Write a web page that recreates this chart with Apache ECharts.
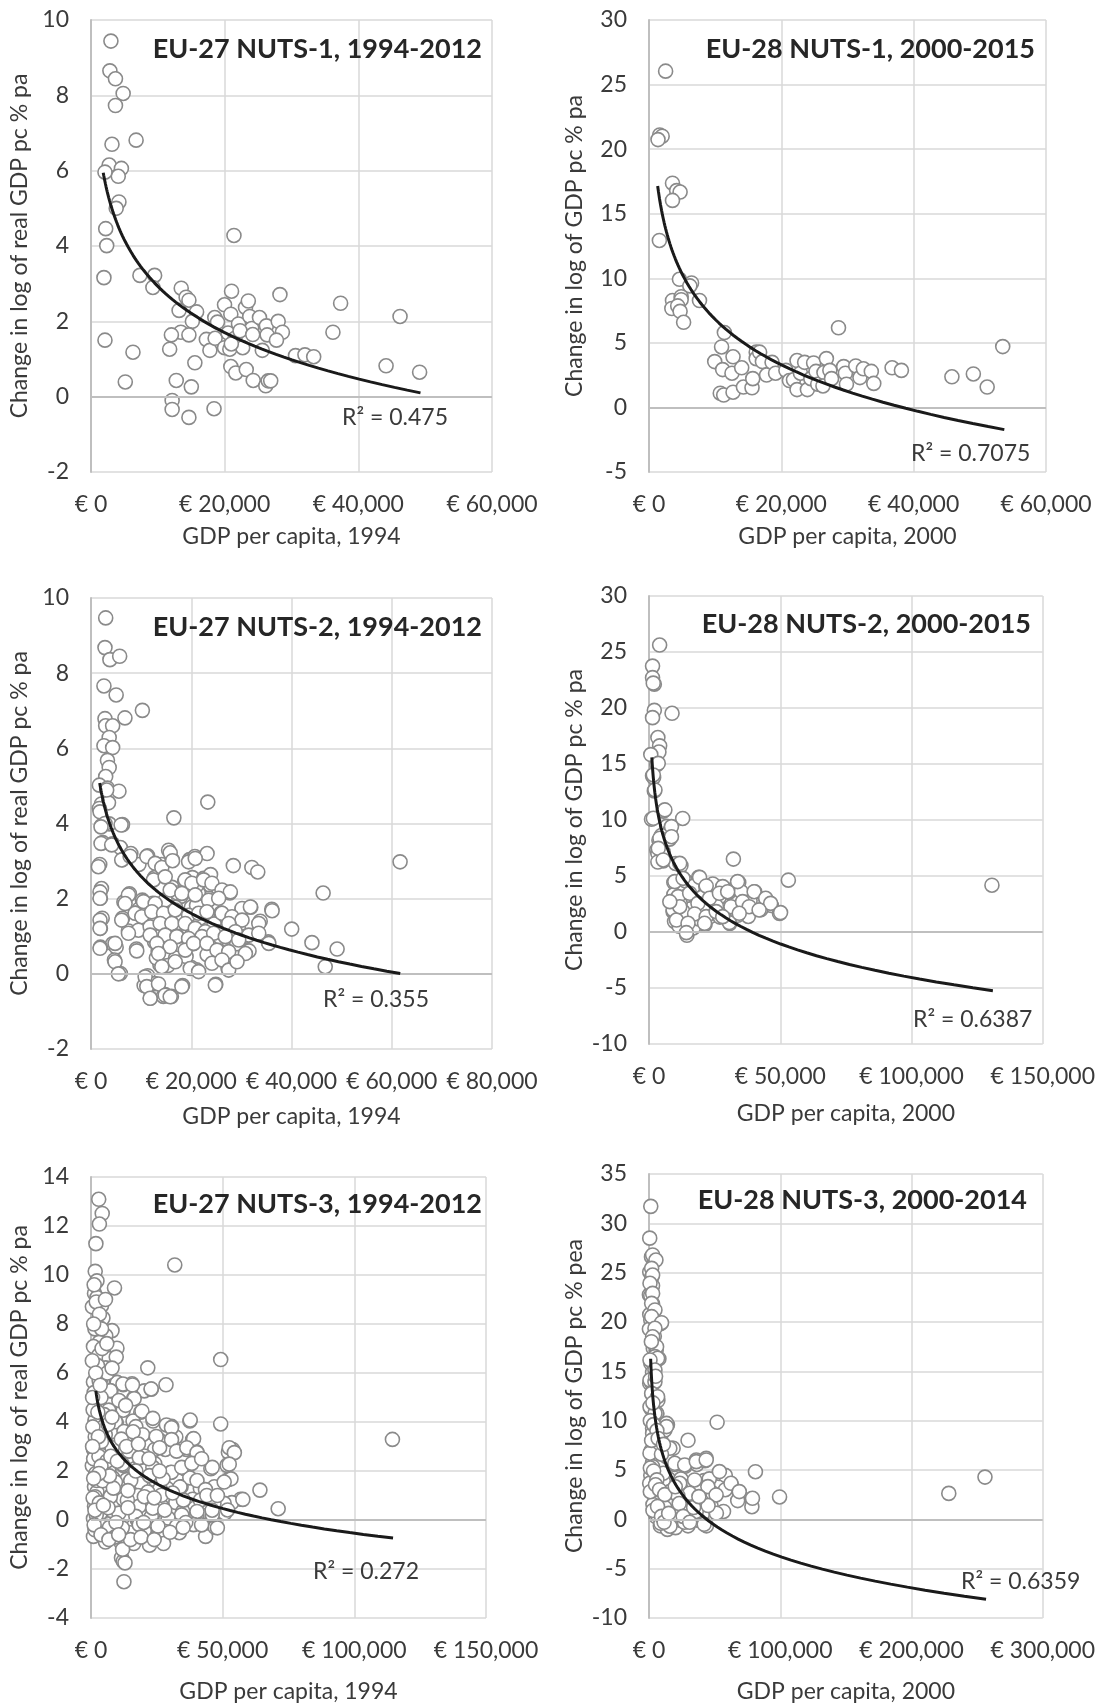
<!DOCTYPE html>
<html><head><meta charset="utf-8">
<script src="https://cdn.jsdelivr.net/npm/echarts@6/dist/echarts.min.js"></script>
<style>html,body{margin:0;padding:0;background:#fff}#c{width:1098px;height:1704px}</style>
</head><body><div id="c"></div>
<script>
// ---------- DATA ----------
const nuts1_1994 = [[2980,9.44],[2825,8.65],[3660,8.44],[4810,8.05],[3660,7.73],[6750,6.81],[3140,6.70],[2720,6.15],[4550,6.06],[4080,5.85],[2090,5.96],[4180,5.17],[3770,5.0],[2200,4.46],[2350,4.01],[1935,3.16],[7320,3.22],[9520,3.22],[9260,2.90],[2090,1.50],[6280,1.18],[5130,0.39],[13500,2.88],[14230,2.64],[14650,2.56],[13180,2.29],[15800,2.25],[15170,2.0],[13440,1.71],[12030,1.64],[14650,1.64],[11770,1.26],[15540,0.90],[12760,0.43],[15010,0.26],[12140,-0.10],[12140,-0.34],[14650,-0.55],[18410,-0.32],[17260,1.52],[17790,1.23],[18570,1.55],[18520,2.10],[18930,1.98],[19980,2.44],[21030,2.80],[20920,2.19],[21390,4.28],[22070,1.93],[20500,1.69],[19980,1.30],[20770,1.26],[21550,1.55],[22700,1.30],[23120,2.37],[23540,2.54],[23750,2.13],[24060,1.81],[25210,2.10],[26250,1.88],[26360,1.64],[25630,1.23],[28010,2.0],[28270,2.71],[28640,1.71],[27750,1.50],[20920,0.80],[21660,0.63],[23230,0.72],[24270,0.43],[26150,0.29],[26520,0.42],[26890,0.42],[30600,1.09],[32010,1.11],[33320,1.06],[36200,1.71],[37350,2.48],[44150,0.82],[46240,2.13],[49170,0.65],[22300,1.75],[24200,1.65],[21000,1.40]];

const nuts1_2000 = [[2510,26.04],[1620,21.1],[1990,21.0],[1360,20.74],[3550,17.36],[4180,16.79],[4700,16.68],[3550,16.03],[1570,12.93],[4600,9.92],[6430,9.64],[6170,9.41],[7630,8.28],[3550,8.28],[4860,8.57],[4860,8.34],[3450,7.66],[4340,7.86],[4700,7.44],[5230,6.59],[10970,4.68],[11390,5.80],[9930,3.55],[11130,2.93],[12700,3.92],[12540,2.65],[14010,3.07],[10770,1.10],[11290,0.96],[12700,1.18],[14270,1.58],[15570,1.52],[15680,2.23],[16200,4.28],[16200,3.78],[16720,4.28],[17140,3.55],[17770,2.51],[18600,3.49],[19130,2.65],[20690,2.87],[21220,2.08],[21840,2.14],[22370,3.63],[22890,2.65],[23520,3.49],[22370,1.38],[23940,1.38],[24460,2.23],[24880,3.44],[25240,2.79],[25500,1.80],[26440,2.70],[26290,1.66],[26810,3.78],[27330,2.87],[27590,2.23],[28640,6.17],[29420,3.16],[29680,2.65],[29840,1.80],[31250,3.21],[31880,2.31],[32400,2.99],[33600,2.79],[33970,1.86],[36740,3.07],[38150,2.87],[45780,2.37],[49020,2.59],[51110,1.58],[53460,4.71]];

const nuts2_1994 = [[2930,9.47],[2790,8.68],[3770,8.36],[5720,8.45],[2580,7.66],[5020,7.42],[10250,7.01],[6770,6.81],[2790,6.79],[2930,6.60],[4320,6.60],[3630,6.29],[2580,6.07],[4320,6.02],[3280,5.68],[3630,5.49],[2930,5.25],[1670,5.02],[3280,4.94],[5580,4.86],[2090,4.52],[3490,4.55],[1670,4.40],[23300,4.57],[16530,4.15],[2090,3.94],[3630,3.99],[6280,3.97],[2370,3.49],[4320,3.46],[5860,3.36],[7950,3.20],[6280,3.04],[9560,2.91],[11300,3.14],[1740,2.91],[14090,2.91],[12690,2.56],[15480,3.29],[16180,3.04],[19670,3.04],[20720,3.12],[23160,3.20],[28390,2.88],[32090,2.83],[33270,2.71],[2090,2.27],[1880,2.01],[7670,2.13],[6560,1.91],[10250,1.96],[12350,1.88],[9560,1.72],[8860,1.62],[10040,1.59],[6280,1.48],[2230,1.48],[1880,1.21],[7460,1.14],[11650,1.19],[13180,1.57],[14440,1.67],[16180,1.43],[18270,1.57],[20020,1.77],[17930,2.06],[18620,2.44],[20230,2.56],[22460,2.54],[23850,2.35],[25600,2.20],[27690,2.15],[23510,2.01],[21410,2.15],[21060,1.82],[22810,1.62],[25950,1.62],[27690,1.43],[30130,1.72],[31880,1.77],[33760,1.40],[36060,1.72],[33270,1.09],[35360,0.85],[40040,1.19],[44080,0.83],[49100,0.66],[46310,2.15],[46730,0.19],[61660,2.98],[30830,0.61],[27340,0.42],[27340,0.14],[23850,0.71],[24900,-0.28],[21060,0.11],[20020,0.17],[20370,0.80],[17930,0.66],[16880,0.42],[18270,-0.31],[16040,-0.60],[14790,-0.55],[14440,-0.60],[11860,-0.65],[11300,-0.05],[10600,-0.31],[12690,-0.26],[13740,0.24],[15340,0.22],[13390,0.61],[12690,0.85],[4320,0.80],[5020,0.71],[4670,0.37],[5860,0.01],[1880,0.71],[9070,0.66],[14090,1.09],[14790,0.80],[17230,1.0],[20020,1.24],[24200,1.19],[26640,1.09],[29430,1.19],[29080,0.80],[31530,0.61],[23160,0.51],[25600,0.61],[18970,0.46],[15130,1.67],[16880,1.77],[14790,1.96],[16180,2.30],[17230,2.15],[19320,2.25],[21060,2.35],[23850,2.64],[21760,1.48],[24550,1.33],[29430,1.43],[30830,1.0],[14090,1.33],[11950,1.38],[13040,0.42],
[3130,4.89],[1800,4.31],[2800,4.0],[6000,3.96],[2000,3.91],[2000,3.47],[4130,3.43],[6130,3.03],[7800,3.13],[11130,3.12],[12800,2.94],[14130,2.83],[15800,3.22],[16270,3.01],[19470,2.98],[20800,3.07],[1470,2.85],[12470,2.5],[14800,2.58],[18800,2.5],[20130,2.41],[22470,2.5],[24130,2.41],[26130,2.23],[27800,2.18],[1800,2.18],[7470,2.1],[10470,1.92],[12800,1.87],[15800,2.23],[18130,2.14],[20800,2.1],[23470,1.96],[25470,2.01],[30130,1.74],[31800,1.78],[36130,1.68],[1800,2.01],[6800,1.87],[8800,1.61],[10130,1.52],[12130,1.65],[14470,1.61],[16800,1.7],[19470,1.56],[21470,1.61],[23130,1.65],[26130,1.61],[28130,1.52],[30130,1.43],[33470,1.34],[1800,1.43],[6130,1.43],[9470,1.16],[11800,1.25],[13800,1.34],[16130,1.34],[18800,1.34],[20800,1.21],[22800,1.12],[25470,1.12],[27470,1.34],[28800,1.12],[31470,1.03],[33470,1.08],[1800,1.21],[7470,1.08],[11800,1.03],[14800,1.03],[17130,0.99],[19470,0.94],[22130,0.99],[24470,1.08],[26800,0.99],[29470,0.9],[35470,0.81],[1800,0.68],[4800,0.81],[9130,0.61],[13130,0.81],[15800,0.72],[18800,0.63],[20470,0.81],[23130,0.81],[25130,0.63],[27470,0.59],[30800,0.54],[4800,0.32],[13470,0.54],[16800,0.32],[14130,0.19],[19800,0.14],[21470,0.06],[24130,0.28],[26130,0.37],[27470,0.1],[29130,0.32],[5470,0.0],[10800,-0.08],[11130,-0.34],[13470,-0.27],[14800,-0.57],[15800,-0.61],[11800,-0.65],[18130,-0.34],[24800,-0.3]];

const nuts2_2000 = [[4050,25.62],[1350,23.74],[1350,22.71],[2030,22.13],[1620,22.22],[2030,19.79],[1350,19.14],[8780,19.53],[3380,17.36],[4050,16.62],[3780,16.07],[680,15.84],[2970,14.93],[1350,13.96],[1760,13.80],[2030,12.60],[950,10.07],[12830,10.14],[5400,10.79],[6750,9.43],[8110,9.10],[4730,8.62],[7840,8.29],[3780,8.20],[2970,7.32],[3380,7.0],[5400,7.16],[5400,6.35],[3380,6.25],[12160,5.93],[10130,6.12],[32150,6.51],[18910,4.89],[9460,4.41],[13780,4.57],[16890,4.08],[21620,4.08],[25400,4.08],[29720,3.76],[34180,4.41],[53090,4.63],[130640,4.18],[40260,3.60],[44580,2.88],[46610,2.36],[49720,1.65],[42560,1.98],[38500,2.79],[35800,2.46],[37830,1.39],[30400,3.53],[31080,2.14],[27700,1.98],[26750,3.11],[24050,1.49],[30800,0.75],[21350,0.68],[18240,2.46],[11080,2.95],[9460,3.34],[9190,1.81],[9730,0.94],[12160,1.39],[14190,1.07],[14450,-0.29],[14860,1.81],[15940,2.46],[14590,3.27],[20270,3.11],[24320,2.62],[22970,1.33],[27020,1.33],[11480,0.52],[16890,0.36],[18910,1.17],[20940,2.30],[25670,2.30],[33780,1.49],[35120,3.60],[11890,2.56],
[3530,15.06],[1640,14.02],[2270,12.68],[6040,10.9],[1640,10.15],[8560,9.41],[4160,8.37],[8560,8.51],[3530,7.47],[5410,6.43],[11710,6.13],[9820,4.5],[12970,4.79],[19270,4.88],[24300,4.29],[21790,4.11],[28080,4.05],[33750,4.5],[40050,3.6],[44450,3.01],[46340,2.56],[50120,1.73],[11080,3.16],[15490,3.46],[18640,2.56],[23050,3.01],[26820,3.46],[29970,3.6],[31230,2.26],[35640,2.71],[38160,2.26],[41940,1.97],[9190,1.97],[12970,1.82],[17380,1.61],[21790,1.37],[25570,1.82],[30600,0.84],[34380,1.67],[10450,1.07],[14860,0.78],[21160,0.78],[14230,-0.06],[28080,1.37],[11710,2.26],[7930,2.71]];

const nuts3_1994 = [[2930,13.09],[4260,12.51],[3190,12.08],[1860,11.28],[31810,10.41],[1600,10.15],[2260,9.76],[8920,9.47],[1330,9.25],[2260,9.08],[3990,8.75],[530,8.70],[4530,8.24],[2260,7.95],[7990,7.73],[5590,7.52],[3190,7.26],[9850,7.01],[930,7.08],[2930,6.72],[6920,6.58],[9580,6.65],[5590,6.21],[21560,6.21],[49250,6.55],[930,5.63],[3590,5.71],[9580,5.63],[12250,5.52],[15570,5.56],[20230,5.27],[22890,5.34],[28480,5.52],[7590,5.27],[2930,4.91],[10910,4.84],[16240,4.98],[6920,4.48],[18900,4.40],[12250,4.48],[1600,4.04],[4260,3.97],[9580,3.97],[15970,4.04],[23560,4.04],[30610,3.82],[37530,4.04],[49250,3.92],[7990,3.61],[1600,3.39],[13580,3.46],[20230,3.32],[26220,3.24],[32210,3.39],[38600,3.29],[114470,3.29],[930,2.88],[4920,2.88],[10250,2.91],[16240,2.77],[21560,3.03],[28220,2.88],[36200,2.88],[40200,2.77],[52180,2.77],[53770,2.88],[1600,2.16],[6920,2.09],[12250,2.23],[18240,2.52],[24220,2.30],[30210,1.94],[35540,2.09],[45520,2.09],[51650,2.23],[1330,1.36],[4260,1.14],[2260,1.14],[8250,1.72],[13580,1.65],[18900,1.51],[24220,1.65],[28880,1.29],[34210,1.36],[41530,1.29],[46850,1.36],[52180,1.65],[64150,1.22],[1330,0.56],[5590,0.35],[9580,0.71],[7590,1.0],[16240,1.0],[17840,1.0],[21560,0.64],[26890,0.56],[32210,0.71],[38600,0.85],[44190,0.71],[49780,0.64],[56830,0.85],[71080,0.46],[930,0.06],[4260,-0.01],[12250,0.13],[17570,0.01],[22890,0.13],[28220,-0.01],[33540,-0.09],[40200,0.13],[46190,0.16],[50840,0.28],[930,-0.67],[4920,-0.74],[9580,-0.30],[14910,-0.52],[20230,-0.45],[25560,-0.59],[33540,-0.52],[43520,-0.67],[47120,-0.30],[11580,-0.96],[16240,-0.96],[22230,-1.03],[27550,-0.96],[11580,-1.54],[12250,-1.68],[12910,-1.75],[12510,-2.52],[3590,4.62],[5590,3.17],[3590,2.30],[11580,1.29],[20230,2.01],[5590,1.94],[8920,0.13],[18240,0.56],[26220,1.29],[37530,1.72],[39530,0.49],[53510,0.71],[34870,0.35],[14240,2.59],[24220,2.88],[2260,1.72],[2930,-0.45],[6260,-0.16],[21560,1.14],[12250,0.85],
[3100,5.68],[9930,5.61],[12130,5.55],[15740,5.51],[22830,5.35],[7350,5.28],[2840,4.95],[10580,4.88],[16380,4.95],[6710,4.48],[19350,4.44],[13160,4.68],[23480,4.15],[28640,3.88],[30570,3.77],[37670,4.08],[1550,4.08],[9290,4.01],[17030,3.81],[12510,3.61],[5420,3.48],[19610,3.48],[24770,3.41],[30570,3.28],[38960,3.32],[900,2.95],[8000,2.95],[14450,2.81],[20250,2.61],[26060,2.95],[32510,2.81],[36380,2.95],[40250,2.75],[52500,2.95],[54440,2.75],[500,2.21],[6710,2.08],[11870,2.28],[18320,2.55],[23480,2.15],[30570,1.95],[34440,2.15],[38310,2.31],[46050,2.15],[52500,2.28],[53150,1.68],[50570,1.55],[2190,1.61],[9290,1.55],[15090,1.61],[22190,1.81],[27350,1.68],[33800,1.35],[40250,1.61],[43470,1.24],[57660,0.84],[50570,0.68],[1550,0.95],[7350,0.95],[13800,0.81],[20250,0.95],[26700,1.01],[35090,0.81],[41540,0.81],[46700,0.68],[3480,0.28],[10580,0.28],[17030,0.15],[23480,0.48],[29280,0.08],[34440,0.21],[40250,0.35],[46050,0.21],[51860,0.41],[5420,-0.25],[11870,-0.32],[18320,-0.19],[25410,-0.25],[32510,-0.25],[38960,-0.19],[47990,-0.32],
[1200,9.6],[2000,8.9],[3200,8.4],[1500,7.8],[4200,7.0],[2500,6.3],[6200,6.0],[1200,5.2],[3800,5.0],[800,4.5],[5000,4.3],[2200,3.7],[4000,3.2],[1000,2.5],[3000,2.6],[6000,2.4],[1800,1.9],[4400,1.6],[800,0.9],[3200,0.7],[6500,0.5],[2000,0.2],[7000,-0.3],[1500,-0.4],[9000,-0.7],[5500,-0.9],[12000,-1.2],[15000,-0.8],[19000,-0.7],[24000,-0.8],[30000,-0.5],[36000,-0.1],[42000,-0.2],
[500,6.5],[1800,6.0],[3500,5.5],[600,5.0],[2600,4.4],[4800,3.8],[700,3.8],[2800,3.4],[6500,3.9],[8000,4.2],[600,3.0],[3800,2.2],[7500,2.6],[1500,0.4],[4700,0.6],[8500,1.3],[7000,1.8],[3000,1.9],[1000,1.7],[10000,2.4],[11500,3.3],[13500,3.0],[16000,3.6],[18000,3.1],[22000,2.5],[26000,2.0],[14000,1.2],[17000,2.0],[24000,0.9],[28000,0.4],[31000,1.1],[35000,-0.3],[20000,-0.1],[9500,-0.1],[14000,0.5],[44000,1.0],[48000,1.0],[42000,2.5],[46000,0.4],[1200,-0.2],[3800,-0.6],[6800,-0.8],[10500,-0.6],[8000,6.2],[6000,7.2],[4000,7.8],[1000,8.0],[5500,9.0]];

const nuts3_2000 = [[1350,31.72],[540,28.50],[1890,26.60],[4050,26.16],[540,25.06],[2160,24.59],[2700,23.67],[300,22.76],[1350,22.65],[2700,21.84],[540,20.75],[8650,19.83],[1350,20.20],[4050,18.55],[300,19.28],[3240,17.34],[7570,16.28],[1350,15.81],[2700,14.89],[540,13.79],[4050,13.87],[2160,12.70],[6760,12.04],[1350,11.23],[5950,10.68],[14060,9.59],[51900,9.84],[29730,8.01],[2700,9.22],[9460,8.67],[4050,7.94],[1350,6.84],[17570,7.21],[5950,6.48],[2700,5.74],[19460,5.56],[27570,5.38],[36490,5.56],[42700,5.93],[53520,4.65],[58120,4.46],[81090,4.83],[1350,4.46],[8110,4.46],[14870,4.10],[24330,4.10],[33780,3.73],[41890,3.92],[45950,4.10],[62710,3.55],[6760,3.18],[2700,3.37],[17570,3.0],[27030,2.63],[37840,3.0],[48650,2.63],[58120,3.0],[68920,2.63],[78380,2.09],[78380,1.28],[67570,1.90],[99470,2.27],[228400,2.63],[255980,4.28],[8110,1.90],[17570,1.54],[29730,1.90],[37840,1.54],[47300,1.35],[56760,0.80],[10810,0.99],[19460,0.99],[29730,0.62],[40540,0.44],[51350,0.62],[5410,0.26],[13510,-0.11],[21620,-0.11],[29730,-0.66],[37840,-0.11],[43790,-0.66],[8650,-0.66],[14060,-1.02],[20270,-0.84],[2700,16.0],[5410,17.09],[2160,13.79],[4050,7.21],[8110,5.74],[10810,3.92],[4870,2.09],[16220,2.09],[24330,-0.11],[32430,2.09],
[2770,26.79],[5290,26.28],[2010,25.44],[2770,24.76],[755,23.92],[2770,22.9],[2010,21.89],[4530,21.22],[2010,20.54],[9570,19.93],[4530,19.36],[2770,18.5],[5790,17.5],[4530,16.49],[6550,16.32],[755,16.15],[4530,15.13],[755,14.12],[4530,13.95],[2010,12.77],[6550,12.43],[755,11.42],[5790,10.74],[13350,9.73],[12090,9.05],[2770,8.7],[8310,7.7],[18390,7.2],[2010,7.03],[13350,6.35],[43580,6.18],[36020,6.01],
[4530,10.75],[13350,9.4],[6550,8.2],[15870,7.2],[19650,5.68],[27200,5.51],[36020,5.85],[43580,6.02],[53650,4.84],[62470,3.65],[68770,2.81],[34760,3.99],[44840,3.32],[23430,3.65],[10830,4.67],[2770,5.34],[15870,2.81],[30980,2.64],[51140,2.47],[78840,2.13],[755,6.7],[500,3.65],
[6000,0.5],[12000,1.2],[18000,0.3],[25000,1.0],[33000,0.2],[42000,-0.5],[9000,-0.4],[16000,-0.7],[27000,-0.3],[36000,0.8],[3000,1.5],[22000,2.4],[45000,1.4],
[1000,10.0],[3500,9.6],[6000,9.0],[2000,8.0],[7000,8.2],[1000,5.2],[3500,4.9],[6000,4.0],[9500,6.6],[11000,7.6],[1000,2.8],[5000,3.5],[8000,3.0],[12000,2.5],[3000,0.9],[6500,1.3],[9500,0.3],[11500,-0.3],[15000,0.6],[20000,3.3],[23000,1.6],[26000,0.3],[31000,-0.3],[34000,1.2],[38000,2.3],[1800,18.0],[5000,14.5],[3000,11.8]];

// logarithmic trend lines: [intercept, slope on ln(x), first x, last x]
const trend1_1994 = [19.27, -1.774, 1830, 49300];
const trend1_2000 = [53.61, -5.08, 1310, 53700];
const trend2_1994 = [15.68, -1.421, 1740, 61700];
const trend2_2000 = [45.91, -4.341, 1080, 131000];
const trend3_1994 = [16.2, -1.454, 1840, 114700];
const trend3_2000 = [48.97, -4.581, 1256, 256800];

const panelTitles = ["EU-27 NUTS-1, 1994-2012","EU-28 NUTS-1, 2000-2015","EU-27 NUTS-2, 1994-2012","EU-28 NUTS-2, 2000-2015","EU-27 NUTS-3, 1994-2012","EU-28 NUTS-3, 2000-2014"];
const r2Labels = ["R² = 0.475","R² = 0.7075","R² = 0.355","R² = 0.6387","R² = 0.272","R² = 0.6359"];
const xTitles = ["GDP per capita, 1994","GDP per capita, 2000","GDP per capita, 1994","GDP per capita, 2000","GDP per capita, 1994","GDP per capita, 2000"];
const yTitles = ["Change in log of real GDP pc % pa","Change in log of GDP pc % pa","Change in log of real GDP pc % pa","Change in log of GDP pc % pa","Change in log of real GDP pc % pa","Change in log of GDP pc % pea"];
const xMaxes = [60000,60000,80000,150000,150000,300000];
const xSteps = [20000,20000,20000,50000,50000,100000];
const yMins = [-2,-5,-2,-10,-4,-10];
const yMaxes = [10,30,10,30,14,35];
const ySteps = [2,5,2,5,2,5];

// ---------- LAYOUT ----------
const datasets = [nuts1_1994, nuts1_2000, nuts2_1994, nuts2_2000, nuts3_1994, nuts3_2000];
const trends = [trend1_1994, trend1_2000, trend2_1994, trend2_2000, trend3_1994, trend3_2000];
const grids = [
  {left:91, top:20, width:401, height:452},
  {left:649, top:20, width:397, height:452},
  {left:91, top:598, width:401, height:451},
  {left:649, top:596, width:397, height:448},
  {left:91, top:1177, width:395, height:450},
  {left:649, top:1174, width:397, height:444}
];
const yNameGap = [60,63,60,63,60,63];
const xNameGap = [53,53,56,58,62,62];
const titlePos = [[482,49],[1035,49],[482,627],[1031,624],[482,1204],[1027,1200]];
const r2Pos = [[342,418],[911,454],[323,1000],[913,1020],[313,1572],[961,1582]];

const FONT = 'Lato, "Open Sans", sans-serif';
const TXT = '#3a3a3a';
const GRID = '#d9d9d9';

function trendPoints(t){
  const pts=[]; const n=80;
  for(let i=0;i<=n;i++){
    const x=t[2]*Math.pow(t[3]/t[2], i/n);
    pts.push([x, t[0]+t[1]*Math.log(x)]);
  }
  return pts;
}

const option = {
  animation:false,
  backgroundColor:'#fff',
  grid: grids.map(g=>Object.assign({containLabel:false}, g)),
  xAxis: grids.map((g,i)=>({
    type:'value', gridIndex:i, min:0, max:xMaxes[i], interval:xSteps[i],
    axisLine:{show:false}, axisTick:{show:false},
    splitLine:{show:true, lineStyle:{color:GRID, width:1.5}},
    axisLabel:{color:TXT, fontFamily:FONT, fontSize:23, margin:21,
      formatter:v=>'€ '+v.toLocaleString('en-US')},
    name:xTitles[i], nameLocation:'middle', nameGap:xNameGap[i],
    nameTextStyle:{color:TXT, fontFamily:FONT, fontSize:23}
  })),
  yAxis: grids.map((g,i)=>({
    type:'value', gridIndex:i, min:yMins[i], max:yMaxes[i], interval:ySteps[i],
    axisLine:{show:true, lineStyle:{color:'#bfbfbf', width:2}}, axisTick:{show:false},
    splitLine:{show:true, lineStyle:{color:GRID, width:1.5}},
    axisLabel:{color:TXT, fontFamily:FONT, fontSize:23, margin:22},
    name:yTitles[i], nameLocation:'middle', nameGap:yNameGap[i], nameRotate:90,
    nameTextStyle:{color:TXT, fontFamily:FONT, fontSize:23}
  })),
  series: [],
  graphic: []
};

datasets.forEach((d,i)=>{
  option.series.push({
    type:'scatter', xAxisIndex:i, yAxisIndex:i, data:d,
    symbol:'circle', symbolSize:14,
    itemStyle:{color:'#ffffff', borderColor:'#8a8a8a', borderWidth:1.6, opacity:1},
    markLine:{silent:true, symbol:'none', label:{show:false},
      lineStyle:{color:'#bfbfbf', width:2, type:'solid'}, data:[{yAxis:0}]}
  });
  option.series.push({
    type:'line', xAxisIndex:i, yAxisIndex:i, data:trendPoints(trends[i]),
    showSymbol:false, symbol:'none', smooth:false,
    lineStyle:{color:'#1a1a1a', width:3}, z:5
  });
  option.graphic.push({type:'text', x:titlePos[i][0], y:titlePos[i][1], z:10,
    style:{text:panelTitles[i], font:'bold 27px '+FONT, fill:'#262626', textAlign:'right', textVerticalAlign:'middle'}});
  option.graphic.push({type:'text', x:r2Pos[i][0], y:r2Pos[i][1], z:10,
    style:{text:r2Labels[i], font:'23px '+FONT, fill:TXT, textAlign:'left', textVerticalAlign:'middle'}});
});

const chart = echarts.init(document.getElementById('c'), null, {renderer:'canvas'});
chart.setOption(option);
</script></body></html>
